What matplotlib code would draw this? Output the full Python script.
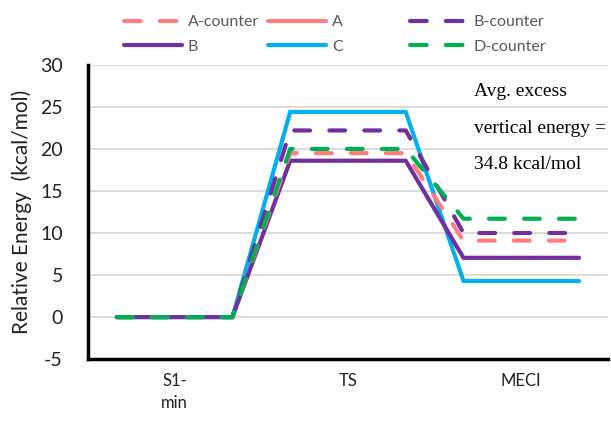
import numpy as np
import matplotlib.pyplot as plt
from matplotlib.lines import Line2D

plt.rcParams["font.family"] = ["Lato", "DejaVu Sans"]
plt.rcParams["axes.unicode_minus"] = False

# states along the reaction path
states = ["S1-\nmin", "TS", "MECI"]

# relative energies (kcal/mol) at S1-min, TS, MECI
a_counter = [0.0, 19.5, 9.1]
a_vals = [np.nan, np.nan, np.nan]
b_counter = [0.0, 22.2, 10.0]
b_vals = [0.0, 18.6, 7.05]
c_vals = [0.0, 24.4, 4.3]
d_counter = [0.0, 20.0, 11.7]

avg_note = ["Avg. excess", "vertical energy =", "34.8 kcal/mol"]

pink = "#FF7C80"
purple = "#7030A0"
cyan = "#00B0F0"
green = "#00B050"
dash = (0, (3.8, 4.6))
legend_dash = (0, (4.0, 4.6))

series = [
    ("A-counter", a_counter, pink, dash),
    ("A", a_vals, pink, "-"),
    ("B-counter", b_counter, purple, dash),
    ("B", b_vals, purple, "-"),
    ("C", c_vals, cyan, "-"),
    ("D-counter", d_counter, green, dash),
]

# each state is drawn as a flat level, joined by sloped lines
half = 1 / 3
xs = []
for i in range(len(states)):
    xs += [i - half, i + half]


def levels(vals):
    out = []
    for v in vals:
        out += [v, v]
    return out


fig = plt.figure(figsize=(6.11, 4.24), dpi=100)
ax = fig.add_axes([0.144, 0.153, 0.851, 0.694])

# draw order: solids first, dashed on top
draw_order = ["C", "B", "A", "A-counter", "B-counter", "D-counter"]
lookup = {s[0]: s for s in series}
for name in draw_order:
    label, vals, color, ls = lookup[name]
    ax.plot(xs, levels(vals), color=color, linestyle=ls, linewidth=3,
            solid_capstyle="round", dash_capstyle="round",
            solid_joinstyle="miter", label=label)

ax.set_xlim(-0.5, 2.5)
ax.set_ylim(-5, 30)
ax.set_yticks(range(-5, 31, 5))
ax.set_xticks(range(len(states)))
ax.set_xticklabels(states, fontsize=12, color="#222222", linespacing=1.45)
ax.tick_params(axis="x", length=0, pad=10)
ax.tick_params(axis="y", length=0, pad=18, labelsize=14, labelcolor="#222222")
ax.yaxis.grid(True, color="#d9d9d9", linewidth=1.3)
ax.set_axisbelow(True)
for side in ["top", "right"]:
    ax.spines[side].set_visible(False)
for side in ["left", "bottom"]:
    ax.spines[side].set_linewidth(2.5)
    ax.spines[side].set_color("black")

ax.set_ylabel("Relative Energy  (kcal/mol)", fontsize=15, color="#222222",
              labelpad=6)

for y, line_text in zip([26.8, 22.4, 18.1], avg_note):
    ax.text(1.725, y, line_text, fontsize=14, family="Liberation Serif",
            va="center", ha="left", color="black")

# legend laid out as three fixed-width columns
columns = [["A-counter", "B"], ["A", "C"], ["B-counter", "D-counter"]]
col_x = [124, 268, 410]
for cx, names in zip(col_x, columns):
    hs = []
    for n in names:
        _, _, color, ls = lookup[n]
        hs.append(Line2D([], [], color=color,
                         linestyle="-" if ls == "-" else legend_dash,
                         linewidth=3, dash_capstyle="round",
                         solid_capstyle="round"))
    fig.legend(hs, names, loc="upper left",
               bbox_to_anchor=(cx / 611, 1 - 15 / 424),
               frameon=False, fontsize=11.5, handlelength=3.6,
               handletextpad=0.4, labelspacing=0.65,
               borderpad=0, borderaxespad=0, labelcolor="#595959")

fig.savefig("out.png", dpi=100)
